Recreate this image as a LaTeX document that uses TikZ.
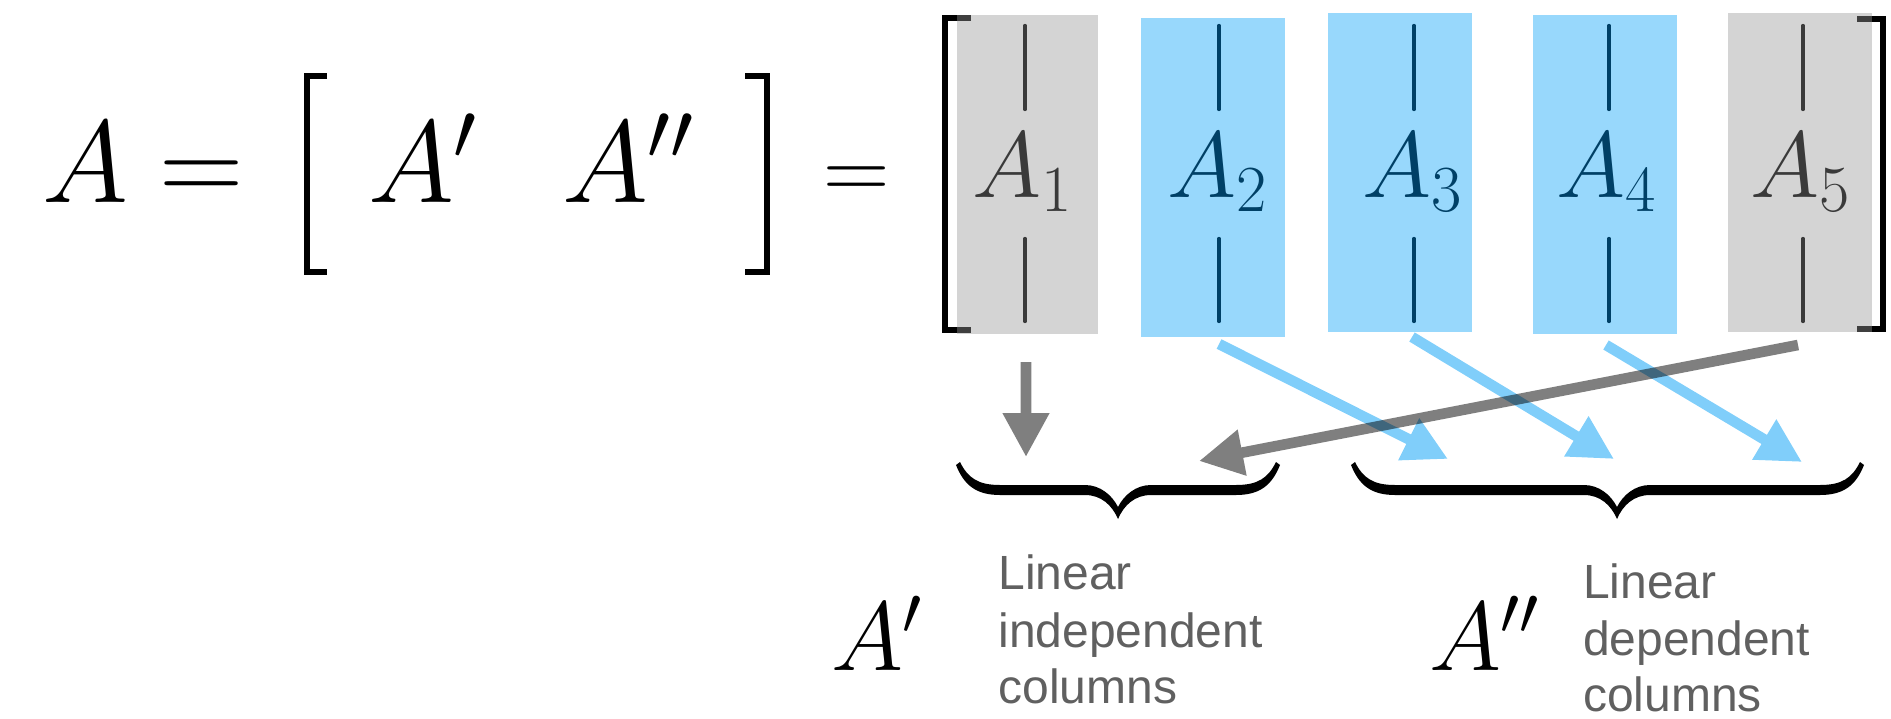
\RequirePackage{fix-cm}
\documentclass[tikz,border=0pt]{standalone}
\usepackage{fontspec}
\newfontfamily\captionsans{Liberation Sans}
\usetikzlibrary{arrows.meta}
\definecolor{boxblue}{RGB}{152,216,252}
\definecolor{arrowblue}{RGB}{128,206,250}
\definecolor{inkblue}{RGB}{0,64,102}
\definecolor{inkgray}{RGB}{58,58,58}
\definecolor{captiongray}{RGB}{96,96,96}
\definecolor{boxgray}{RGB}{152,152,152}
\newcommand{\curlybrace}[3]{%
\fill (#1+2,462) .. controls (#1+10,478) and (#1+20,485) .. (#1+42,485) -- (#2-33,485)
  .. controls (#2-18,485) and (#2-6,495) .. (#2,507)
  .. controls (#2+6,495) and (#2+18,485) .. (#2+33,485) -- (#3-42,485)
  .. controls (#3-20,485) and (#3-10,478) .. (#3-2,462) -- (#3+2,465)
  .. controls (#3-6,485) and (#3-18,495) .. (#3-42,495) -- (#2+33,495)
  .. controls (#2+17,495) and (#2+6,505) .. (#2,519)
  .. controls (#2-6,505) and (#2-17,495) .. (#2-33,495) -- (#1+42,495)
  .. controls (#1+18,495) and (#1+6,485) .. (#1-2,465) -- cycle;}
\begin{document}
\begin{tikzpicture}[x=0.5pt,y=-0.5pt,
  bigmath/.style={inner sep=0pt, outer sep=0pt, font=\fontsize{58.5}{60}\selectfont},
  midmath/.style={inner sep=0pt, outer sep=0pt, font=\fontsize{49}{50}\selectfont},
  collabel/.style={inner sep=0pt, outer sep=0pt, anchor=base, font=\fontsize{47}{48}\selectfont},
  caption/.style={inner sep=0pt, outer sep=0pt, anchor=base west, text depth=0pt, text=captiongray, font=\captionsans\fontsize{24}{28}\selectfont},
  colbox/.style={inner sep=0pt, outer sep=0pt, minimum width=72pt, minimum height=159.5pt},
  graybox/.style={colbox, fill=boxgray, fill opacity=0.42},
  bluebox/.style={colbox, fill=boxblue},
  bracketline/.style={line width=3pt, line join=miter, line cap=butt},
  colbar/.style={line width=1.65pt, line cap=round},
  arrowshaft/.style={line width=5.3pt, -{Triangle[length=22pt,width=22pt]}},
  bluearrow/.style={arrowshaft, draw=arrowblue, fill=arrowblue},
  grayarrow/.style={arrowshaft, draw=black, fill=black}
]
\useasboundingbox (0,0) rectangle (1891,718);

% left equation
\node[bigmath, anchor=base west] (Abig) at (42,202) {$A$};
\node[bigmath, anchor=base] (eqone) at (202,202) {$=$};
\draw[bracketline] (327,76) -- (306.5,76) -- (306.5,272) -- (327,272);
\node[bigmath, anchor=base west] (Aone) at (368,202) {$A'$};
\node[bigmath, anchor=base west] (Atwo) at (562,202) {$A''$};
\draw[bracketline] (745,76) -- (766.5,76) -- (766.5,272) -- (745,272);
\node[inner sep=0pt, font=\fontsize{46}{46}\selectfont, anchor=base] (eqtwo) at (857,199) {$=$};

% matrix brackets
\draw[bracketline] (971,18) -- (945,18) -- (945,330) -- (971,330);
\draw[bracketline] (1857,19) -- (1883,19) -- (1883,329) -- (1857,329);

% column boxes
\node[graybox, minimum width=70.5pt] (c1) at (1027.5,174) {};
\node[bluebox] (c2) at (1213,177.5) {};
\node[bluebox] (c3) at (1400,172.5) {};
\node[bluebox] (c4) at (1605,174) {};
\node[graybox] (c5) at (1800,172.5) {};

% column bars
\draw[colbar, inkgray] (1025,25.5) -- (1025,109.5) (1025,238.5) -- (1025,321.5);
\draw[colbar, inkblue] (1219,25.5) -- (1219,109.5) (1219,238.5) -- (1219,321.5);
\draw[colbar, inkblue] (1414,25.5) -- (1414,109.5) (1414,238.5) -- (1414,321.5);
\draw[colbar, inkblue] (1609,25.5) -- (1609,109.5) (1609,238.5) -- (1609,321.5);
\draw[colbar, inkgray] (1803,25.5) -- (1803,109.5) (1803,238.5) -- (1803,321.5);

% column labels
\node[collabel, text=inkgray] (l1) at (1023,197) {$A_1$};
\node[collabel, text=inkblue] (l2) at (1218,197) {$A_2$};
\node[collabel, text=inkblue] (l3) at (1413,197) {$A_3$};
\node[collabel, text=inkblue] (l4) at (1607,197) {$A_4$};
\node[collabel, text=inkgray] (l5) at (1801,197) {$A_5$};

% braces
\curlybrace{958}{1118}{1278}
\curlybrace{1353}{1617}{1862}

% arrow end points
\coordinate (s1) at (1026,362);
\coordinate (t1) at (1026,457);
\coordinate (s2) at (1219,344);
\coordinate (t2) at (1448,459);
\coordinate (s3) at (1412,337);
\coordinate (t3) at (1614,459);
\coordinate (s4) at (1606,345);
\coordinate (t4) at (1802,462);
\coordinate (s5) at (1798,345);
\coordinate (t5) at (1199,461);

% blue arrows
\draw[bluearrow] (s2) -- (t2);
\draw[bluearrow] (s3) -- (t3);
\draw[bluearrow] (s4) -- (t4);

% gray arrows
\begin{scope}[transparency group, opacity=0.5]
\draw[grayarrow] (s5) -- (t5);
\end{scope}
\begin{scope}[transparency group, opacity=0.5]
\draw[grayarrow] (s1) -- (t1);
\end{scope}

% bottom labels
\node[midmath, anchor=base west] (Apbot) at (831,670) {$A'$};
\node[midmath, anchor=base west] (Appbot) at (1429,670) {$A''$};

\node[caption] (la) at (998.5,589) {Linear};
\node[caption] (lb) at (998.5,647) {independent};
\node[caption] (lc) at (998.5,703) {columns};
\node[caption] (ra) at (1583,598) {Linear};
\node[caption] (rb) at (1583,655) {dependent};
\node[caption] (rc) at (1583,711) {columns};
\end{tikzpicture}
\end{document}
